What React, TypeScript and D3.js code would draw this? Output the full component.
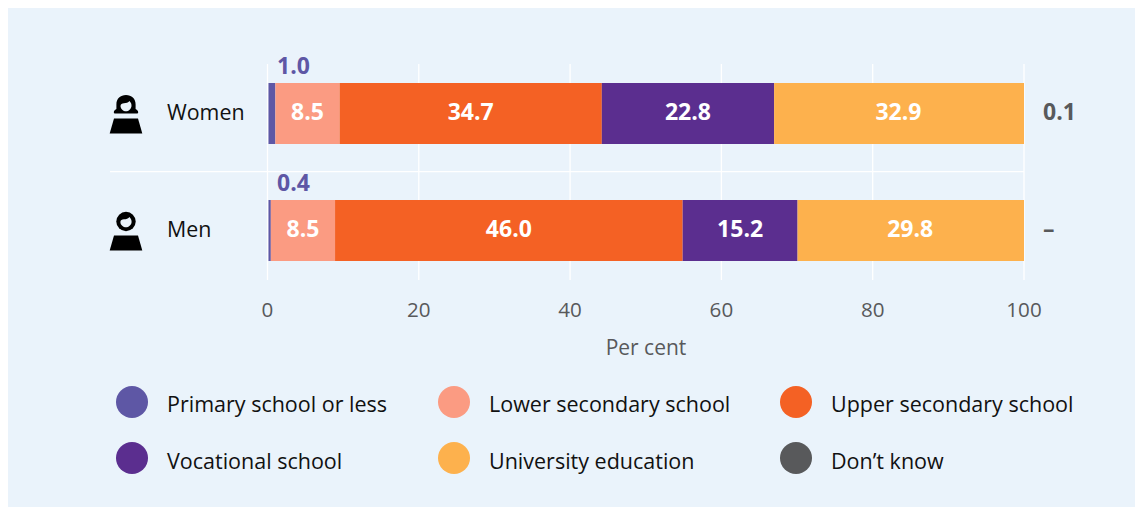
import React from "react";
import * as d3 from "d3";

const groups = ["Women", "Men"];
const seriesNames = ["Primary school or less", "Lower secondary school", "Upper secondary school", "Vocational school", "University education", "Don’t know"];
const seriesColors = ["#5e57a5", "#fb9b82", "#f46124", "#5b2e8f", "#fdb14d", "#58595b"];
const primary = [1.0, 0.4];
const lowerSecondary = [8.5, 8.5];
const upperSecondary = [34.7, 46.0];
const vocational = [22.8, 15.2];
const university = [32.9, 29.8];
const dontKnowLabels = ["0.1", "–"];
const ticks = [0, 20, 40, 60, 80, 100];
const font = "'Open Sans', sans-serif";

const seriesValues = [primary, lowerSecondary, upperSecondary, vocational, university];

const x = d3.scaleLinear().domain([0, 100]).range([267.8, 1023.5]);
const gridX = d3.scaleLinear().domain([0, 100]).range([267.5, 1024]);
const y = d3.scaleBand().domain(groups).range([55, 289]);
const BAR_H = 61;
const BG = "#eaf3fb";

function Icon({ cx, cy, woman }: { cx: number; cy: number; woman: boolean }) {
  return (
    <g transform={`translate(${cx},${cy})`}>
      {woman ? (
        <>
          <path d="M-12.2 -1.2 C-12.2 -3 -10.5 -3.8 -9.6 -4.5 L-9.6 -9 C-9.6 -15 -5.5 -18.5 0 -18.5 C5.5 -18.5 9.6 -15 9.6 -9 L9.6 -4.5 C10.5 -3.8 12.2 -3 12.2 -1.2 C12.2 -0.3 11.5 0 11 0 L-11 0 C-11.5 0 -12.2 -0.3 -12.2 -1.2 Z" fill="#000" />
          <path d="M-5.5 -7.5 C-5.5 -9.5 -4 -10 -2 -10.3 C0 -10.5 2.5 -10.8 3.4 -12.5 C5 -11 5.6 -9.5 5.5 -7.5 C5.3 -4.5 2.5 -2.2 0 -2.2 C-2.5 -2.2 -5.5 -4.5 -5.5 -7.5 Z" fill={BG} />
        </>
      ) : (
        <>
          <circle cx={0} cy={-9} r={9.7} fill="#000" />
          <path d="M-5.6 -8.5 C-5.6 -10.5 -4 -11 -2 -11.3 C0 -11.4 2.5 -11.8 3.4 -13.6 C5 -12 5.7 -10.5 5.6 -8.5 C5.4 -5.3 2.5 -3.2 0 -3.2 C-2.5 -3.2 -5.6 -5.3 -5.6 -8.5 Z" fill={BG} />
        </>
      )}
      <path d="M-16.3 20 L-12 5 L12 5 L16.3 20 Z" fill="#000" />
    </g>
  );
}

export default function App() {
  const stacks = groups.map((_, gi) => {
    let acc = 0;
    return seriesValues.map((s, si) => {
      const seg = { si, v: s[gi], x0: acc, x1: acc + s[gi] };
      acc += s[gi];
      return seg;
    });
  });
  const legendX = [132, 454, 796];
  const legendY = [402, 458];
  return (
    <svg width={1135} height={507} style={{ position: "absolute", left: 0, top: 0, display: "block" }} fontFamily={font}>
      <rect x={8} y={8} width={1127} height={499} fill={BG} />
      {ticks.map((t) => (
        <line key={t} x1={gridX(t)} x2={gridX(t)} y1={64} y2={280} stroke="#fff" strokeWidth={1.3} />
      ))}
      <line x1={110} x2={1024} y1={171.7} y2={171.7} stroke="#fff" strokeWidth={1.3} />
      {groups.map((g, gi) => {
        const cy = (y(g) as number) + y.bandwidth() / 2;
        return (
          <g key={g}>
            <Icon cx={126} cy={cy} woman={gi === 0} />
            <text x={167} y={cy + 6.5} fontSize={21.4} fill="#111">{g}</text>
            {stacks[gi].map((s) => {
              const left = Math.max(x(s.x0), gridX(0) + 1);
              const right = s.si === 4 ? gridX(100) : x(s.x1);
              return <rect key={s.si} x={left} width={right - left} y={cy - BAR_H / 2} height={BAR_H} fill={seriesColors[s.si]} />;
            })}
            {stacks[gi].filter((s) => s.si >= 1).map((s) => (
              <text key={s.si} x={(x(s.x0) + x(s.x1)) / 2} y={cy + 6.8} fontSize={23} fontWeight={700} fill="#fff" textAnchor="middle">{s.v.toFixed(1)}</text>
            ))}
            <text x={277} y={cy - 39.5} fontSize={23} fontWeight={700} fill={seriesColors[0]}>{primary[gi].toFixed(1)}</text>
            <text x={1043} y={cy + 6.8} fontSize={23} fontWeight={700} fill={seriesColors[5]}>{dontKnowLabels[gi]}</text>
          </g>
        );
      })}
      {ticks.map((t) => (
        <text key={t} x={gridX(t)} y={317} fontSize={20.6} fill="#58595b" textAnchor="middle">{t}</text>
      ))}
      <text x={646} y={355} fontSize={21} fill="#58595b" textAnchor="middle">Per cent</text>
      {seriesNames.map((n, i) => {
        const lx = legendX[i % 3];
        const ly = legendY[Math.floor(i / 3)];
        return (
          <g key={n}>
            <circle cx={lx} cy={ly} r={16} fill={seriesColors[i]} />
            <text x={lx + 35} y={ly + 9.5 + (i >= 3 ? 1 : 0)} fontSize={21.5} fill="#111">{n}</text>
          </g>
        );
      })}
    </svg>
  );
}
